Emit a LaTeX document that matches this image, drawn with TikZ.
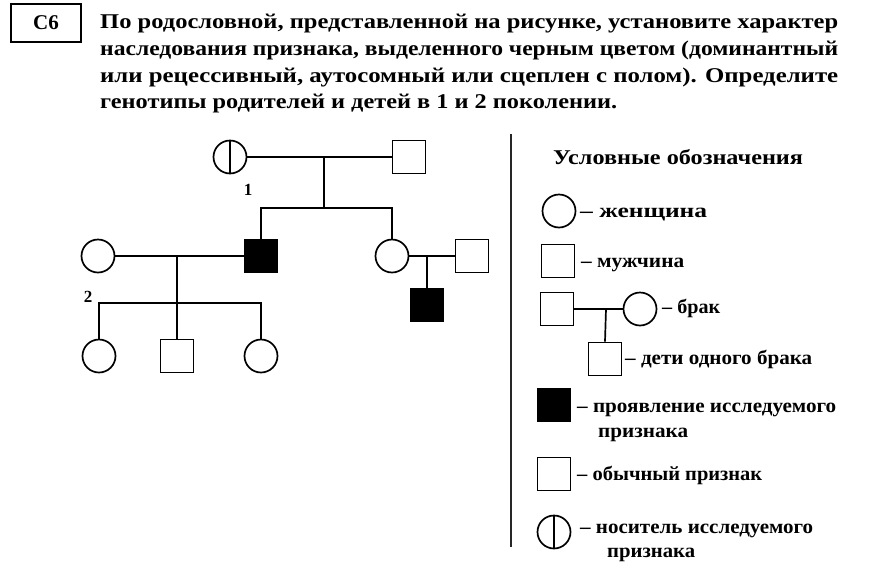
\documentclass[tikz,border=0pt]{standalone}
\usepackage{fontspec}
\usepackage{graphicx}
\setmainfont{Liberation Serif}
\newcommand{\fitw}[2]{\resizebox{#1pt}{\height}{#2}}
\begin{document}
\begin{tikzpicture}[x=1pt,y=-1pt,
  fem/.style={circle,draw,line width=1.7pt,minimum size=33pt,inner sep=0pt},
  mal/.style={rectangle,draw,line width=1.7pt,minimum size=33pt,inner sep=0pt},
  aff/.style={mal,fill=black},
  ln/.style={line width=1.7pt},
  hdr/.style={anchor=base west,inner sep=0pt,font=\bfseries\fontsize{21}{21}\selectfont},
  lbl/.style={anchor=base west,inner sep=0pt,font=\bfseries\fontsize{20}{20}\selectfont},
  gen/.style={inner sep=0pt,font=\bfseries\fontsize{17}{17}\selectfont}]
\useasboundingbox (0,0) rectangle (892,571);
\fill[white] (0,0) rectangle (892,571);
% header
\node[draw,line width=1.5pt,minimum width=70pt,minimum height=38pt,inner sep=0pt,
  font=\bfseries\fontsize{21}{21}\selectfont] (c6) at (46,23) {C6};
\node[hdr] (h1) at (100,28) {\fitw{738}{По родословной, представленной на рисунке, установите характер}};
\node[hdr] (h2) at (100,55) {\fitw{738}{наследования признака, выделенного черным цветом (доминантный}};
\node[hdr] (h3) at (100,82) {\fitw{738}{или рецессивный, аутосомный или сцеплен с полом). Определите}};
\node[hdr] (h4) at (100,108) {\fitw{517}{генотипы родителей и детей в 1 и 2 поколении.}};
% pedigree generation I
\node[fem] (I1) at (230,157) {};
\draw[ln] (I1.north) -- (I1.south);
\node[mal] (I2) at (409,157) {};
\coordinate (m1) at (324,157);
\coordinate (s1) at (324,208);
\draw[ln] (I1) -- (I2);
\draw[ln] (m1) -- (s1);
\node[gen] (g1) at (248,190) {1};
% generation II
\node[fem] (II0) at (98,256) {};
\node[aff] (II1) at (261,256) {};
\node[fem] (II2) at (392,256) {};
\node[mal] (II3) at (472,256) {};
\draw[ln] (II1.north) |- (s1) -| (II2.north);
\draw[ln] (II0) -- (II1);
\draw[ln] (II2) -- (II3);
\coordinate (m2) at (177,256);
\coordinate (s2) at (177,303);
\coordinate (m3) at (427,256);
\node[gen] (g2) at (88,297) {2};
% generation III
\node[fem] (III1) at (99,356) {};
\node[mal] (III2) at (177,356) {};
\node[fem] (III3) at (261,356) {};
\node[aff] (III4) at (427,305) {};
\draw[ln] (III1.north) |- (s2) -| (III3.north);
\draw[ln] (m2) -- (III2.north);
\draw[ln] (m3) -- (III4.north);
% separator
\coordinate (sepT) at (511,134);
\coordinate (sepB) at (511,547);
\draw[line width=1.5pt,black!85] (sepT) -- (sepB);
% legend
\node[inner sep=0pt,font=\bfseries\fontsize{21}{21}\selectfont] (title) at (678,157) {\fitw{250}{Условные обозначения}};
\node[fem] (Lf) at (559,211) {};
\node[lbl] (tf) at (580,217) {\fitw{127}{– женщина}};
\node[mal] (Lm) at (558,261) {};
\node[lbl] (tm) at (581,267) {\fitw{103}{– мужчина}};
\node[mal] (Lbm) at (557,309) {};
\node[fem] (Lbf) at (640,309) {};
\draw[ln] (Lbm) -- (Lbf);
\coordinate (Lbj) at (606,309);
\node[mal] (Lc) at (605,359) {};
\draw[ln] (Lbj) -- (Lc.north);
\node[lbl] (tb) at (662,313) {\fitw{58}{– брак}};
\node[lbl] (tc) at (625,364) {\fitw{187}{– дети одного брака}};
\node[aff] (La) at (554,405) {};
\node[lbl] (ta) at (577,412) {\fitw{259}{– проявление исследуемого}};
\node[lbl] (ta2) at (598,437) {\fitw{90}{признака}};
\node[mal] (Ln) at (554,474) {};
\node[lbl] (tn) at (577,480) {\fitw{185}{– обычный признак}};
\node[fem] (Lk) at (554,532) {};
\draw[ln] (Lk.north) -- (Lk.south);
\node[lbl] (tk) at (580,533) {\fitw{233}{– носитель исследуемого}};
\node[lbl] (tk2) at (607,557) {\fitw{88}{признака}};
\end{tikzpicture}
\end{document}
